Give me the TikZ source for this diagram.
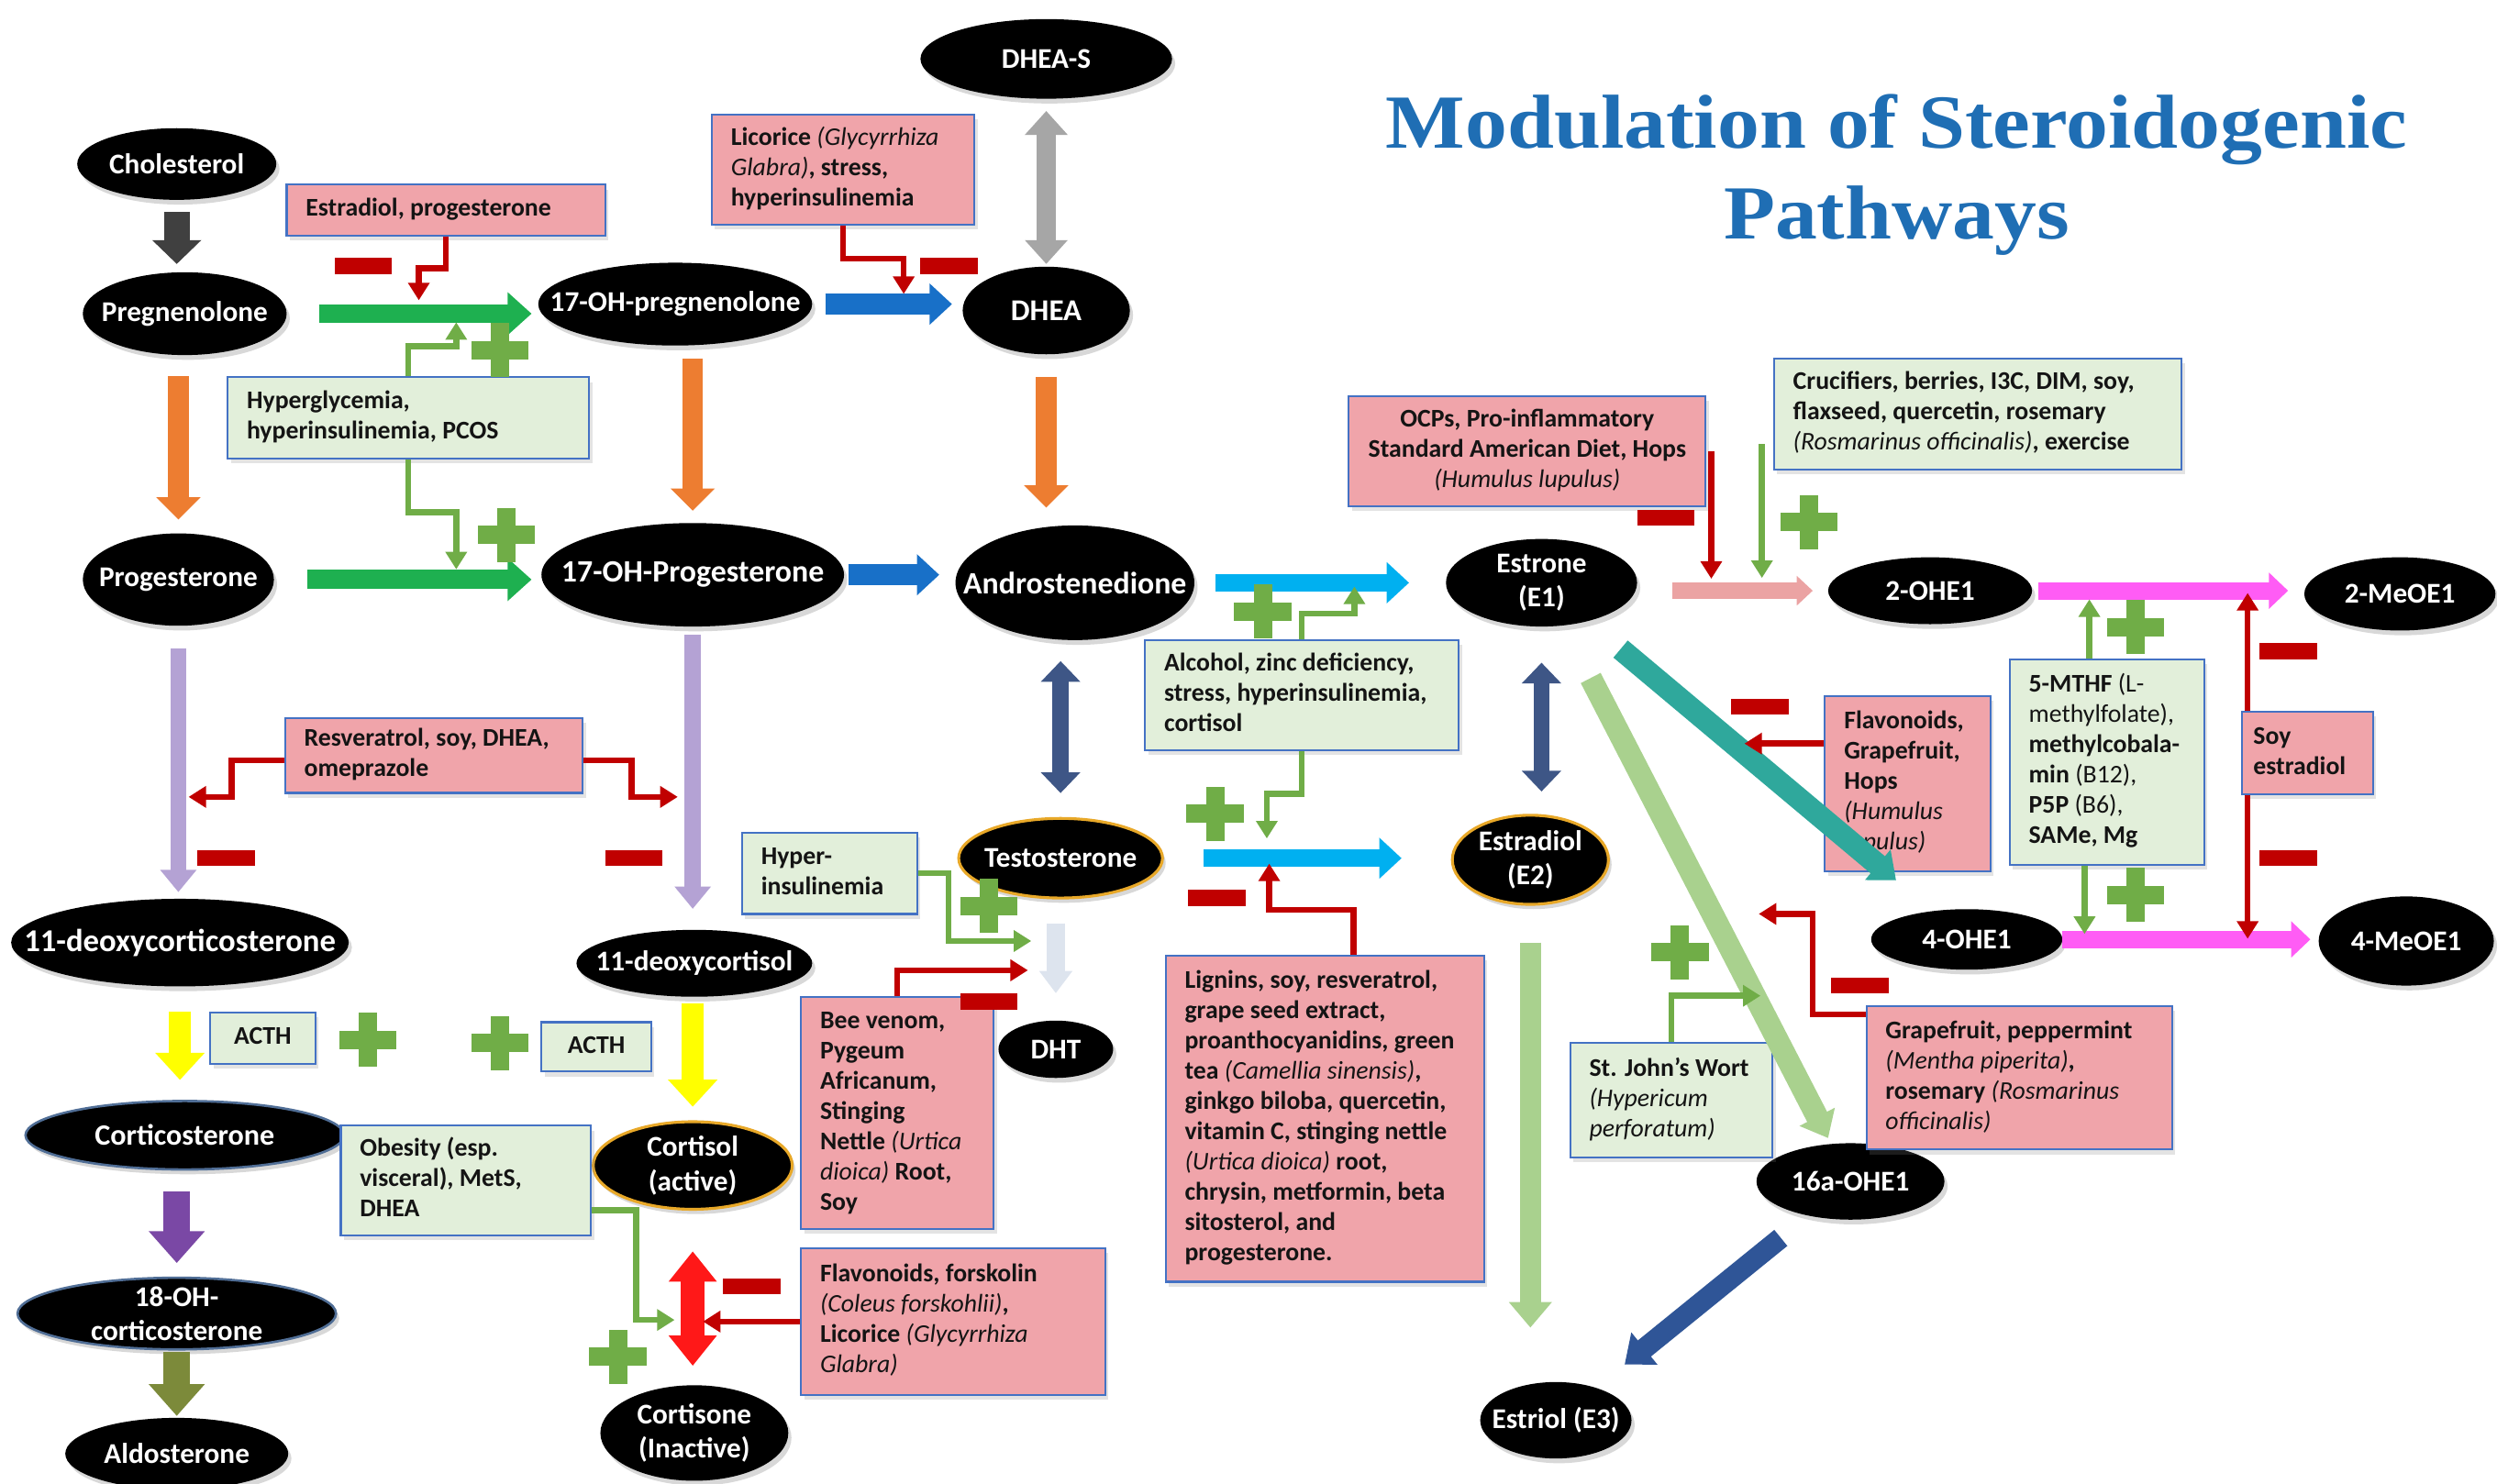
\documentclass[tikz,border=0pt]{standalone}
\usepackage{fontspec}
\setmainfont{Carlito}
\newfontfamily\titlefont[FakeStretch=1.1]{Liberation Serif}
\usetikzlibrary{arrows.meta,shapes.geometric,shadows}

\definecolor{titleblue}{RGB}{31,110,180}
\definecolor{redfill}{RGB}{240,164,170}
\definecolor{greenfill}{RGB}{226,239,218}
\definecolor{boxedge}{RGB}{68,114,196}
\definecolor{inhred}{RGB}{192,0,0}
\definecolor{actgreen}{RGB}{112,173,71}
\definecolor{rimgold}{RGB}{232,168,40}
\definecolor{rimblue}{RGB}{80,110,150}
\definecolor{chargray}{RGB}{64,64,64}
\definecolor{pathgreen}{RGB}{30,176,80}
\definecolor{pathorange}{RGB}{237,125,49}
\definecolor{pathblue}{RGB}{24,112,200}
\definecolor{sulfgray}{RGB}{166,166,166}
\definecolor{convblue}{RGB}{62,86,134}
\definecolor{aromblue}{RGB}{0,176,240}
\definecolor{lavpath}{RGB}{180,162,212}
\definecolor{yellowpath}{RGB}{255,255,0}
\definecolor{purplepath}{RGB}{122,72,165}
\definecolor{olivepath}{RGB}{124,138,58}
\definecolor{redpath}{RGB}{255,24,24}
\definecolor{palepath}{RGB}{221,228,238}
\definecolor{pinkpath}{RGB}{235,163,163}
\definecolor{magentapath}{RGB}{255,92,245}
\definecolor{tealpath}{RGB}{47,168,156}
\definecolor{sagepath}{RGB}{169,209,142}
\definecolor{navypath}{RGB}{47,85,151}
\definecolor{boxtext}{RGB}{20,20,20}

% metabolite: black ellipse of fixed size, text set on top
\newcommand\metnode[6][]{%
  \node[metab,#1,minimum width=#4pt,minimum height=#5pt] (#2) at (#3) {};
  \node[mettxt] (#2-t) at (#2.center) {#6};}
\newcommand\metsize[1]{\fontsize{#1}{22}\selectfont}
% fixed-width, left-aligned block of lines inside a box
\newcommand\boxlines[2]{\makebox[#1pt][l]{\begin{tabular}{@{}l@{}}#2\end{tabular}}}
\newcommand\boxlinesc[2]{\makebox[#1pt][c]{\begin{tabular}{@{}c@{}}#2\end{tabular}}}
\newcommand\sci[1]{\textmd{\textit{#1}}}

\begin{document}
\begin{tikzpicture}[x=1pt,y=-1pt,
  metab/.style={ellipse, fill=black, inner sep=0pt,
    drop shadow={shadow xshift=2pt, shadow yshift=-3pt, opacity=0.3}},
  mettxt/.style={text=white, inner sep=0pt, align=center,
    font=\fontsize{18}{21.5}\selectfont\bfseries},
  goldrim/.style={draw=rimgold, line width=1.8pt},
  bluerim/.style={draw=rimblue, line width=1.5pt},
  infobox/.style={rectangle, draw=boxedge, line width=1.2pt, inner xsep=12pt,
    inner ysep=3pt, text=boxtext, font=\fontsize{16}{19}\selectfont\bfseries,
    drop shadow={shadow xshift=2pt, shadow yshift=-3pt, opacity=0.22}},
  redbox/.style={infobox, fill=redfill},
  greenbox/.style={infobox, fill=greenfill},
  ba/.style n args={4}{draw=#1, line width=#2, -{Triangle[width=#3,length=#4]}},
  dba/.style n args={4}{draw=#1, line width=#2,
    {Triangle[width=#3,length=#4]}-{Triangle[width=#3,length=#4]}},
  inh/.style={draw=inhred, line width=3.7pt, -{Triangle[width=13pt,length=11pt]}},
  act/.style={draw=actgreen, line width=3.7pt, -{Triangle[width=13pt,length=11pt]}},
  plussign/.pic={\fill[actgreen] (-18,-5.75) rectangle (18,5.75);
                 \fill[actgreen] (-5.75,-17) rectangle (5.75,17);},
  minussign/.pic={\fill[inhred] (-18,-5) rectangle (18,5);}
]
\fill[white] (0,0) rectangle (1568,931.5);
\useasboundingbox (0,0) rectangle (1568,931.5);

% ---------- title ----------
\node[font={\titlefont\fontsize{48}{57}\selectfont\bfseries}, text=titleblue,
      align=center] (title) at (1191,110) {Modulation of Steroidogenic\\Pathways};

% ---------- metabolites ----------
\metnode{chol}{111,103}{125}{45}{Cholesterol}
\metnode{preg}{116,197}{128}{52}{Pregnenolone}
\metnode{ohpreg}{424,191}{172}{52}{17-OH-pregnenolone}
\metnode{dheas}{657,37}{158}{50}{DHEA-S}
\metnode{dhea}{657,195}{105}{55}{\metsize{19}DHEA}
\metnode{prog}{112,364}{120}{58}{Progesterone}
\metnode{ohprog}{435,361}{190}{65}{\metsize{19.5}17-OH-Progesterone}
\metnode{andro}{675,366}{150}{72}{\metsize{19.5}Androstenedione}
\metnode{estrone}{968,366}{120}{55}{Estrone\\(E1)}
\metnode{oh2}{1212,371}{128}{42}{2-OHE1}
\metnode{meo2}{1507,373}{120}{46}{2-MeOE1}
\metnode{doc}{113,592}{212}{55}{\metsize{20}11-deoxycorticosterone}
\metnode{deoxf}{436,605}{148}{42}{11-deoxycortisol}
\metnode[goldrim]{testo}{666,539}{128}{50}{Testosterone}
\metnode[goldrim]{e2}{961,540}{98}{56}{Estradiol\\(E2)}
\metnode{oh4}{1235,590}{120}{38}{4-OHE1}
\metnode{meo4}{1511,591}{110}{56}{4-MeOE1}
\metnode{dht}{663,659}{72}{36}{DHT}
\metnode[bluerim]{cortico}{116,713}{200}{43}{\metsize{18.5}Corticosterone}
\metnode[goldrim]{cortisol}{435,732}{125}{55}{Cortisol\\(active)}
\metnode[bluerim]{oh18}{111,825}{200}{45}{18-OH-\\corticosterone}
\metnode{aldo}{111,913}{140}{45}{Aldosterone}
\metnode{cortisone}{436,900}{118}{60}{Cortisone\\(Inactive)}
\metnode{oh16}{1162,742}{118}{48}{16a-OHE1}
\metnode{e3}{977,892}{95}{48}{Estriol (E3)}

% ---------- modulator boxes ----------
\node[redbox, minimum width=200pt, minimum height=32pt] (estprog) at (280,132)
  {\boxlines{176}{Estradiol, progesterone}};
\node[redbox, minimum width=165pt, minimum height=69pt] (licorice) at (529.5,106.5)
  {\boxlines{141}{Licorice \sci{(Glycyrrhiza}\\\sci{Glabra)}, stress,\\hyperinsulinemia}};
\node[greenbox, minimum width=227pt, minimum height=51pt] (hyperglyc) at (256.5,262.5)
  {\boxlines{203}{Hyperglycemia,\\hyperinsulinemia, PCOS}};
\node[redbox, minimum width=224pt, minimum height=69pt] (ocps) at (959,283.5)
  {\boxlinesc{200}{OCPs, Pro-inflammatory\\Standard American Diet, Hops\\\sci{(Humulus lupulus)}}};
\node[greenbox, minimum width=256pt, minimum height=70pt] (cruc) at (1242,260)
  {\boxlines{232}{Crucifiers, berries, I3C, DIM, soy,\\flaxseed, quercetin, rosemary\\\sci{(Rosmarinus officinalis)}, exercise}};
\node[redbox, minimum width=187pt, minimum height=47pt] (resv) at (272.5,474.5)
  {\boxlines{163}{Resveratrol, soy, DHEA,\\omeprazole}};
\node[greenbox, minimum width=197pt, minimum height=69pt] (alcohol) at (817.5,436.5)
  {\boxlines{173}{Alcohol, zinc deficiency,\\stress, hyperinsulinemia,\\cortisol}};
\node[redbox, minimum width=104pt, minimum height=110pt] (flav1) at (1198,492)
  {\boxlines{80}{Flavonoids,\\Grapefruit,\\Hops\\\sci{(Humulus}\\\sci{lupulus)}}};
\node[greenbox, minimum width=122pt, minimum height=129pt] (mthf) at (1323,478.5)
  {\boxlines{98}{5-MTHF \textmd{(L-}\\\textmd{methylfolate),}\\methylcobala-\\min \textmd{(B12),}\\P5P \textmd{(B6),}\\SAMe, Mg}};
\node[redbox, inner xsep=7pt, minimum width=82pt, minimum height=52pt] (soy) at (1449,473)
  {\boxlines{68}{Soy\\estradiol}};
\node[greenbox, minimum width=110pt, minimum height=51pt] (hyperins) at (521,548.5)
  {\boxlines{86}{Hyper-\\insulinemia}};
\node[greenbox, minimum width=66pt, minimum height=32pt] (acth1) at (165,652)
  {\boxlinesc{42}{ACTH}};
\node[greenbox, minimum width=69pt, minimum height=31pt] (acth2) at (374.5,657.5)
  {\boxlinesc{45}{ACTH}};
\node[redbox, minimum width=121pt, minimum height=146pt] (bee) at (563.5,699)
  {\boxlines{97}{Bee venom,\\Pygeum\\Africanum,\\Stinging\\Nettle \sci{(Urtica}\\\sci{dioica)} Root,\\Soy}};
\node[redbox, minimum width=200pt, minimum height=205pt] (lignins) at (832,702.5)
  {\boxlines{176}{Lignins, soy, resveratrol,\\grape seed extract,\\proanthocyanidins, green\\tea \sci{(Camellia sinensis)},\\ginkgo biloba, quercetin,\\vitamin C, stinging nettle\\\sci{(Urtica dioica)} root,\\chrysin, metformin, beta\\sitosterol, and\\progesterone.}};
\node[greenbox, minimum width=157pt, minimum height=69pt] (obesity) at (292.5,741.5)
  {\boxlines{133}{Obesity (esp.\\visceral), MetS,\\DHEA}};
\node[redbox, minimum width=191pt, minimum height=92pt] (flav2) at (598.5,830)
  {\boxlines{167}{Flavonoids, forskolin\\\sci{(Coleus forskohlii)},\\Licorice \sci{(Glycyrrhiza}\\\sci{Glabra)}}};
\node[greenbox, minimum width=127pt, minimum height=72pt] (stjohn) at (1049.5,691)
  {\boxlines{103}{St. John’s Wort\\\sci{(Hypericum}\\\sci{perforatum)}}};
\node[redbox, minimum width=192pt, minimum height=90pt] (grape) at (1268,677)
  {\boxlines{168}{Grapefruit, peppermint\\\sci{(Mentha piperita)},\\rosemary \sci{(Rosmarinus}\\\sci{officinalis)}}};

% ---------- pathway arrows ----------
\draw[ba={chargray}{16pt}{30pt}{15pt}, shorten <=7.5pt, shorten >=5pt] (chol.south) -- (chol.south |- preg.north);
\draw[ba={pathgreen}{12pt}{26pt}{15pt}, shorten <=20pt, shorten >=4pt] (preg.east) -- (preg.east -| ohpreg.west);
\draw[ba={pathgreen}{12pt}{26pt}{15pt}, shorten <=21pt, shorten >=6pt] (prog.east) -- (prog.east -| ohprog.west);
\draw[ba={pathorange}{13pt}{27pt}{14pt}, shorten <=13pt, shorten >=8.5pt] (prog.north |- preg.south) -- (prog.north);
\draw[ba={pathorange}{13pt}{27pt}{14pt}, shorten <=8pt, shorten >=7.5pt] (ohprog.north |- ohpreg.south) -- (ohprog.north);
\draw[ba={pathorange}{13pt}{27pt}{14pt}, shorten <=14pt, shorten >=11pt] (dhea.south) -- (dhea.south |- andro.north);
\draw[ba={pathblue}{13pt}{25pt}{14pt}, shorten <=8pt, shorten >=6.5pt] (ohpreg.east) -- (ohpreg.east -| dhea.west);
\draw[ba={pathblue}{13pt}{25pt}{14pt}, shorten <=2.6pt, shorten >=10pt] (ohprog.east) -- (ohprog.east -| andro.west);
\draw[dba={sulfgray}{12pt}{26pt}{15pt}, shorten <=1.5pt, shorten >=7.5pt] (dhea.north) -- (dhea.north |- dheas.south);
\draw[dba={convblue}{10pt}{24pt}{13pt}, shorten <=13pt, shorten >=15pt] (testo.north |- andro.south) -- (testo.north);
\draw[dba={convblue}{10pt}{24pt}{13pt}, shorten <=22.5pt, shorten >=14pt] (estrone.south) -- (estrone.south |- e2.north);
\draw[ba={aromblue}{11pt}{25pt}{14pt}, shorten <=13pt, shorten >=23pt] (andro.east) -- (andro.east -| estrone.west);
\draw[ba={aromblue}{11pt}{25pt}{14pt}, shorten <=25pt, shorten >=31pt] (testo.east) -- (testo.east -| e2.west);
\draw[ba={lavpath}{10pt}{22pt}{14pt}, shorten <=14pt, shorten >=4pt] (prog.south) -- (prog.south |- doc.north);
\draw[ba={lavpath}{10pt}{22pt}{14pt}, shorten <=5pt, shorten >=13pt] (ohprog.south) -- (ohprog.south |- deoxf.north);
\draw[ba={yellowpath}{14pt}{30pt}{17pt}, shorten <=15.5pt, shorten >=12.5pt] (doc.south) -- (doc.south |- cortico.north);
\draw[ba={yellowpath}{14pt}{30pt}{17pt}, shorten <=4pt, shorten >=8.5pt] (cortisol.north |- deoxf.south) -- (cortisol.north);
\draw[ba={purplepath}{17pt}{34pt}{20pt}, shorten <=13pt, shorten >=8.5pt] (oh18.north |- cortico.south) -- (oh18.north);
\draw[ba={olivepath}{17pt}{34pt}{20pt}, shorten <=1pt, shorten >=1pt] (oh18.south) -- (oh18.south |- aldo.north);
\draw[dba={redpath}{15pt}{29pt}{19pt}, shorten <=25.5pt, shorten >=12pt] (cortisol.south) -- (cortisol.south |- cortisone.north);
\draw[ba={palepath}{12pt}{20pt}{14pt}, shorten <=15pt, shorten >=17pt] (dht.north |- testo.south) -- (dht.north);
\draw[ba={pinkpath}{10pt}{18pt}{10pt}, shorten <=22pt, shorten >=9.5pt] (oh2.west -| estrone.east) -- (oh2.west);
\draw[ba={magentapath}{11pt}{22pt}{12pt}, shorten <=4pt, shorten >=10pt] (oh2.east) -- (oh2.east -| meo2.west);
\draw[ba={magentapath}{11pt}{22pt}{12pt}, shorten <=0pt, shorten >=5pt] (oh4.east) -- (oh4.east -| meo4.west);
\draw[ba={tealpath}{14pt}{24pt}{15pt}, shorten <=27pt, shorten >=30pt] (estrone) -- (oh4);
\draw[ba={sagepath}{14pt}{24pt}{15pt}, shorten <=37pt, shorten >=4pt] (estrone) -- (oh16);
\draw[ba={sagepath}{13pt}{26pt}{16pt}, shorten <=23pt, shorten >=34pt] (e2.south) -- (e2.south |- e3.north);
\draw[ba={navypath}{13pt}{25pt}{16pt}, shorten <=22pt, shorten >=23pt] (oh16) -- (e3);

% ---------- modulator connectors ----------
\draw[inh] (estprog.south) -- ++(0,20) -| ++(-17,20);
\draw[inh] (licorice.south) -- ++(0,21) -| ++(38,22);
\draw[act] (hyperglyc.north) -- ++(0,-19) -| ++(30,-15);
\draw[act] (hyperglyc.south) -- ++(0,33) -| ++(30,36);
\draw[inh] ([yshift=-3pt]resv.west) -- ++(-33,0) |- ++(-27,23);
\draw[inh] ([yshift=-3pt]resv.east) -- ++(30,0) |- ++(29,23);
\draw[act] (alcohol.north) -- ++(0,-16) -| ++(33,-17);
\draw[act] (alcohol.south) -- ++(0,27) -| ++(-22,28);
\draw[inh] ([xshift=18pt]lignins.north) -- ++(0,-28) -| ++(-53,-29);
\draw[inh] ([xshift=3pt]ocps.east) -- ++(0,80);
\draw[act] ([shift={(-7,19)}]cruc.west) -- ++(0,84);
\draw[act] ([xshift=-11pt]mthf.north) -- ++(0,-37);
\draw[act] ([xshift=-14pt]mthf.south) -- ++(0,43);
\draw[inh] ([xshift=4pt]soy.north west) -- ++(0,-74);
\draw[inh] ([xshift=4pt]soy.south west) -- ++(0,90);
\draw[inh] ([yshift=25pt]flav1.west) -- ++(-50,0);
\draw[inh] ([yshift=40pt]grape.west) -- ++(-33,0) |- ++(-34,-63);
\draw[act] (stjohn.north) |- ++(56,-29);
\draw[act] (hyperins.east) -- ++(19,0) |- ++(52,42.5);
\draw[inh] (bee.north) |- ++(82,-16);
\draw[act] ([yshift=-18.5pt]obesity.east) -- ++(28,0) |- ++(24,69);
\draw[inh] (flav2.west) -- ++(-61,0);

% ---------- plus / minus marks ----------
\foreach \p in {(314,220),(318,336),(793,384),(763,511),(1136,328),(1341,394),
                (1341,562),(621,569),(231,653),(314,655),(388,852),(1055,598)}
  \pic at \p {plussign};
\foreach \p in {(228,167),(596,167),(142,539),(398,539),(764,564),(1046,325),
                (1105,444),(1437,409),(1437,539),(1168,619),(621,629),(472,808)}
  \pic at \p {minussign};
\end{tikzpicture}
\end{document}
